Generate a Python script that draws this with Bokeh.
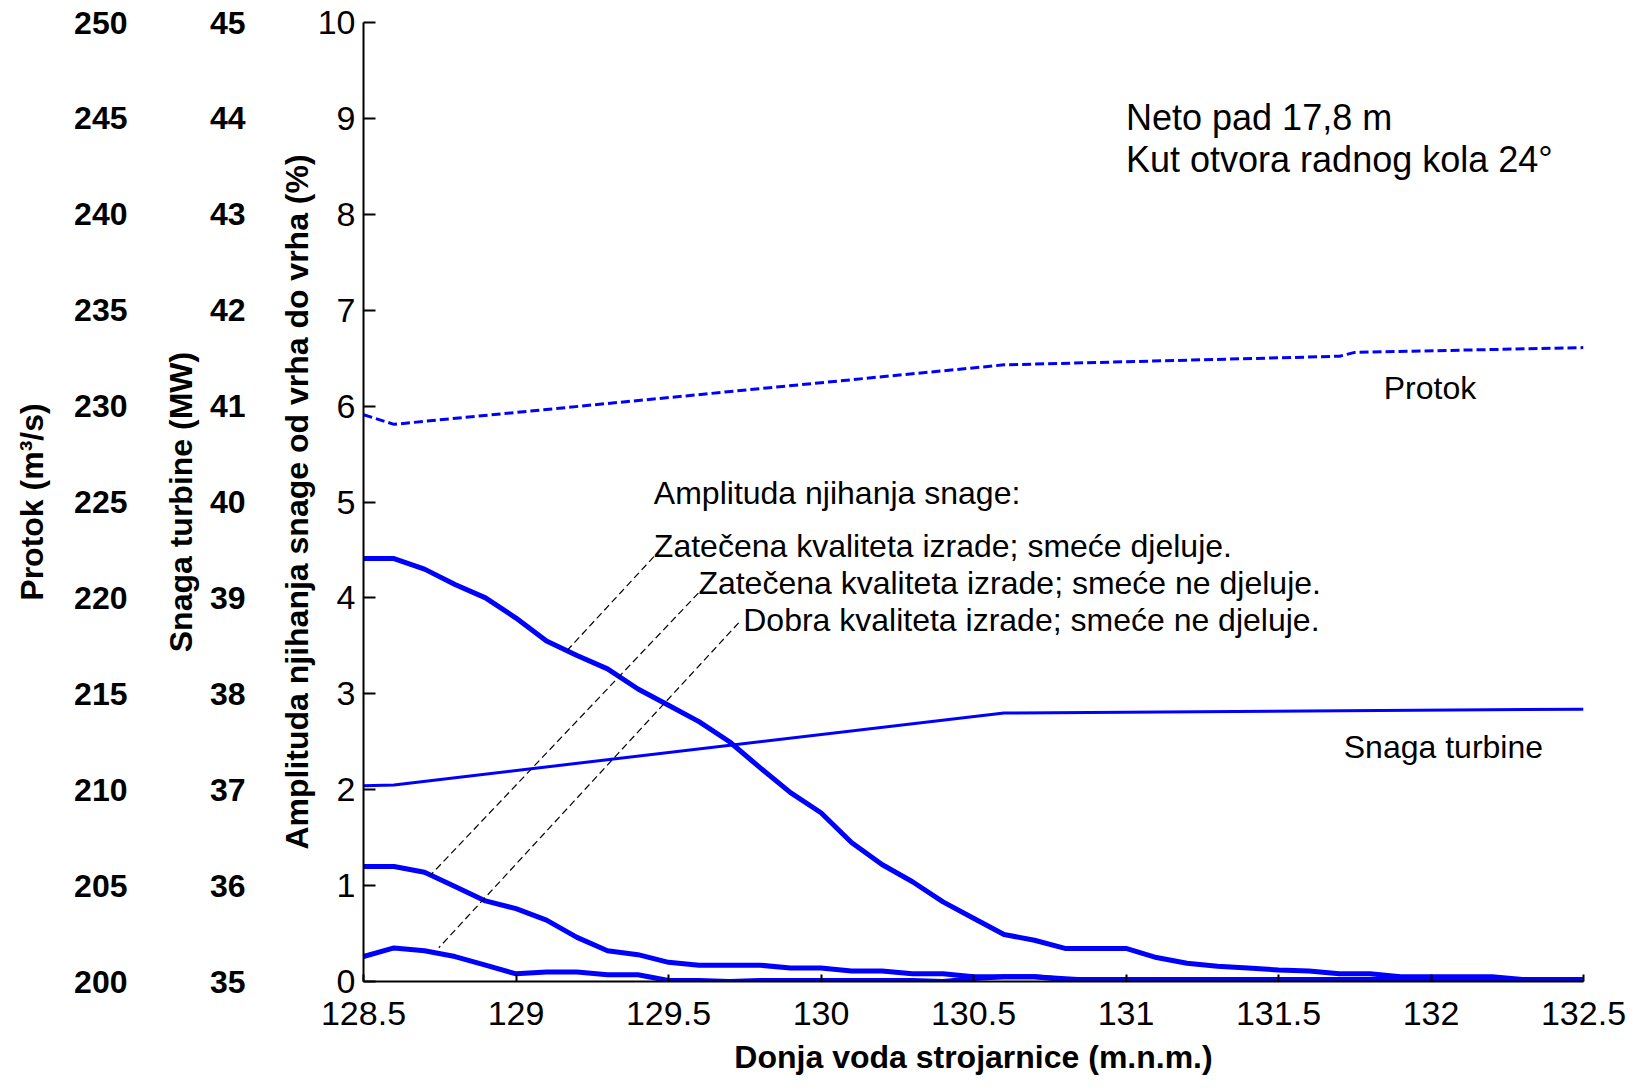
import numpy as np
from bokeh.plotting import figure
from bokeh.models import Range1d, LinearAxis, FixedTicker, Label
from bokeh.embed import file_html
from bokeh.resources import INLINE

# ---------------- data ----------------
water_level = [128.5, 128.6, 128.7, 128.8, 128.9, 129.0, 129.1, 129.2, 129.3, 129.4,
               129.5, 129.6, 129.7, 129.8, 129.9, 130.0, 130.1, 130.2, 130.3, 130.4,
               130.5, 130.6, 130.7, 130.8, 130.9, 131.0, 131.1, 131.2, 131.3, 131.4,
               131.5, 131.6, 131.7, 131.8, 131.9, 132.0, 132.1, 132.2, 132.3, 132.4,
               132.5]

amp_existing_debris = [4.41, 4.41, 4.30, 4.14, 4.00, 3.79, 3.55, 3.40, 3.26, 3.05,
                       2.88, 2.71, 2.50, 2.23, 1.97, 1.76, 1.45, 1.22, 1.04, 0.83,
                       0.66, 0.49, 0.43, 0.345, 0.345, 0.345, 0.25, 0.19, 0.16, 0.14,
                       0.12, 0.11, 0.08, 0.08, 0.05, 0.05, 0.05, 0.05, 0.02, 0.02,
                       0.02]

amp_existing_clean = [1.20, 1.20, 1.14, 0.99, 0.84, 0.76, 0.64, 0.46, 0.32, 0.28,
                      0.20, 0.17, 0.17, 0.17, 0.14, 0.14, 0.11, 0.11, 0.08, 0.08,
                      0.05, 0.05, 0.05, 0.02, 0.02, 0.02, 0.02, 0.02, 0.02, 0.02,
                      0.02, 0.02, 0.02, 0.02, 0.02, 0.02, 0.02, 0.02, 0.02, 0.02,
                      0.02]

amp_good_clean = [0.26, 0.35, 0.32, 0.26, 0.17, 0.08, 0.10, 0.10, 0.07, 0.07,
                  0.01, 0.01, 0.00, 0.01, 0.01, 0.01, 0.01, 0.01, 0.01, 0.00,
                  0.03, 0.05, 0.05, 0.03, 0.01, 0.00, 0.00, 0.00, 0.01, 0.01,
                  0.01, 0.01, 0.01, 0.01, 0.01, 0.01, 0.01, 0.01, 0.01, 0.01,
                  0.01]

protok_level = [128.5, 128.6, 130.6, 131.7, 131.75, 132.5]
protok_m3s = [229.55, 229.05, 232.15, 232.6, 232.8, 233.05]

snaga_level = [128.5, 128.6, 130.6, 132.5]
snaga_mw = [37.04, 37.05, 37.80, 37.84]

x_ticks = [128.5, 129.0, 129.5, 130.0, 130.5, 131.0, 131.5, 132.0, 132.5]
x_tick_labels = ["128.5", "129", "129.5", "130", "130.5", "131", "131.5", "132", "132.5"]
amp_ticks = [0, 1, 2, 3, 4, 5, 6, 7, 8, 9, 10]
protok_ticks = [200, 205, 210, 215, 220, 225, 230, 235, 240, 245, 250]
snaga_ticks = [35, 36, 37, 38, 39, 40, 41, 42, 43, 44, 45]

FONT = "Liberation Sans"
BLUE = "#0000FF"

# ---------------- figure ----------------
p = figure(width=1627, height=1088,
           x_range=Range1d(128.5, 132.5), y_range=Range1d(0, 10),
           output_backend="svg", toolbar_location=None,
           min_border_left=363, min_border_right=44,
           min_border_top=22, min_border_bottom=107)
p.extra_y_ranges = {"protok": Range1d(200, 250), "snaga": Range1d(35, 45)}
p.outline_line_color = None
p.grid.visible = False
p.background_fill_color = "white"
p.border_fill_color = "white"

# main axes
xa = p.xaxis[0]
xa.ticker = FixedTicker(ticks=x_ticks)
xa.major_label_overrides = {t: l for t, l in zip(x_ticks, x_tick_labels)}
xa.axis_label = "Donja voda strojarnice (m.n.m.)"
xa.major_tick_in = 7
xa.major_tick_out = 0
xa.major_label_standoff = 20
xa.axis_label_standoff = 11

ya = p.yaxis[0]
ya.ticker = FixedTicker(ticks=amp_ticks)
ya.axis_label = "Amplituda njihanja snage od vrha do vrha (%)"
ya.major_tick_in = 12
ya.major_tick_out = 0
ya.major_label_standoff = 8
ya.axis_label_standoff = 0

for ax in (xa, ya):
    ax.axis_line_color = "black"
    ax.axis_line_width = 2
    ax.major_tick_line_color = "black"
    ax.major_tick_line_width = 2
    ax.minor_tick_line_color = None
    ax.major_label_text_font = FONT
    ax.major_label_text_font_size = "34px"
    ax.major_label_text_color = "black"
    ax.axis_label_text_font = FONT
    ax.axis_label_text_font_size = "32px"
    ax.axis_label_text_font_style = "bold"
    ax.axis_label_text_color = "black"

snaga_axis = LinearAxis(y_range_name="snaga", ticker=FixedTicker(ticks=snaga_ticks),
                        axis_label="Snaga turbine (MW)",
                        major_label_standoff=30, axis_label_standoff=8)
protok_axis = LinearAxis(y_range_name="protok", ticker=FixedTicker(ticks=protok_ticks),
                         axis_label="Protok (m³/s)",
                         major_label_standoff=32, axis_label_standoff=21)
for ax in (snaga_axis, protok_axis):
    ax.axis_line_color = None
    ax.major_tick_line_color = None
    ax.minor_tick_line_color = None
    ax.major_tick_in = 0
    ax.major_tick_out = 0
    ax.major_label_text_font = FONT
    ax.major_label_text_font_size = "32px"
    ax.major_label_text_font_style = "bold"
    ax.major_label_text_color = "black"
    ax.axis_label_text_font = FONT
    ax.axis_label_text_font_size = "32px"
    ax.axis_label_text_font_style = "bold"
    ax.axis_label_text_color = "black"
    p.add_layout(ax, "left")

# ---------------- series ----------------
p.line(protok_level, protok_m3s, y_range_name="protok", line_color=BLUE,
       line_width=3, line_dash="9 4")
p.line(snaga_level, snaga_mw, y_range_name="snaga", line_color=BLUE, line_width=3)
for series in (amp_existing_debris, amp_existing_clean, amp_good_clean):
    p.line(water_level, series, line_color=BLUE, line_width=5, line_join="round")

# ---------------- leader lines (annotation) ----------------
lead_top_x = [129.452, 129.598, 129.73]
lead_top_y = [4.43, 4.05, 3.74]
lead_end_x = [129.167, 128.72, 128.747]
lead_end_y = [float(np.interp(lead_end_x[0], water_level, amp_existing_debris)),
              float(np.interp(lead_end_x[1], water_level, amp_existing_clean)),
              float(np.interp(lead_end_x[2], water_level, amp_good_clean)) + 0.06]
p.segment(lead_top_x, lead_top_y, lead_end_x, lead_end_y,
          line_color="black", line_width=1.2, line_dash="7 4")

# ---------------- texts ----------------
def add_text(x, y, txt, size):
    p.add_layout(Label(x=x, y=y, text=txt, text_font=FONT, text_font_size=size,
                       text_color="black", text_baseline="middle", text_align="left"))

add_text(131.0, 9.01, "Neto pad 17,8 m", "36px")
add_text(131.0, 8.57, "Kut otvora radnog kola 24°", "36px")
add_text(131.845, 6.19, "Protok", "32px")
add_text(131.714, 2.45, "Snaga turbine", "32px")
add_text(129.452, 5.09, "Amplituda njihanja snage:", "32px")
add_text(129.452, 4.54, "Zatečena kvaliteta izrade; smeće djeluje.", "32px")
add_text(129.598, 4.16, "Zatečena kvaliteta izrade; smeće ne djeluje.", "32px")
add_text(129.745, 3.77, "Dobra kvaliteta izrade; smeće ne djeluje.", "32px")

open("out.html", "w").write(file_html(p, INLINE))
